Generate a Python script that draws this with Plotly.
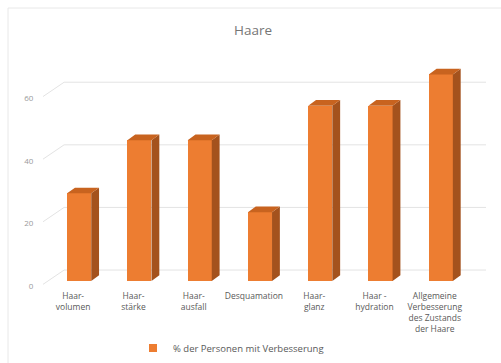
import plotly.graph_objects as go

# Chart data
categories = [
    "Haar-<br>volumen",
    "Haar-<br>stärke",
    "Haar-<br>ausfall",
    "Desquamation",
    "Haar-<br>glanz",
    "Haar -<br>hydration",
    "Allgemeine<br>Verbesserung<br>des Zustands<br>der Haare",
]
values = [28, 45, 45, 22, 56, 56, 66]
y_ticks = [0, 20, 40, 60]
series_name = "% der Personen mit Verbesserung"

# Figure geometry (pixels)
W, H = 501, 363
ML, MR, MT, MB = 43, 15, 60, 77
PW, PH = W - ML - MR, H - MT - MB
X_RANGE = [-0.5, 6.85]
Y_RANGE = [-1.6, 70.6]

# Pseudo-3D offsets (axis units)
FRONT_DY = -1.6                 # front plane below the bar floor
BACK_DX, BACK_DY = 0.35, 3.5    # back wall offset
BAR_SHIFT, BAR_W = 0.1, 0.4
DEPTH_DX, DEPTH_DY = 0.13, 1.8

FRONT = "#ED7D31"
SIDE = "#A4521D"
TOP = "#C8631F"
GRID = "#e3e3e3"
TEXT = "#595959"


def px_to_paper(px, py):
    return (px - ML) / PW, (H - MB - py) / PH


fig = go.Figure()

xs = [i + BAR_SHIFT for i in range(len(values))]

# Front faces
fig.add_trace(go.Bar(
    x=xs, y=values, width=BAR_W,
    marker=dict(color=FRONT, line=dict(width=0)),
    showlegend=False, hoverinfo="skip",
))

# Side and top faces
side_x, side_y, top_x, top_y = [], [], [], []
for x, v in zip(xs, values):
    xl, xr = x - BAR_W / 2, x + BAR_W / 2
    side_x += [xr, xr + DEPTH_DX, xr + DEPTH_DX, xr, xr, None]
    side_y += [0, DEPTH_DY, v + DEPTH_DY, v, 0, None]
    top_x += [xl, xl + DEPTH_DX, xr + DEPTH_DX, xr, xl, None]
    top_y += [v, v + DEPTH_DY, v + DEPTH_DY, v, v, None]

fig.add_trace(go.Scatter(x=side_x, y=side_y, mode="lines", fill="toself",
                         fillcolor=SIDE, line=dict(width=0),
                         showlegend=False, hoverinfo="skip"))
fig.add_trace(go.Scatter(x=top_x, y=top_y, mode="lines", fill="toself",
                         fillcolor=TOP, line=dict(width=0),
                         showlegend=False, hoverinfo="skip"))

# Legend entry
fig.add_trace(go.Scatter(x=[None], y=[None], mode="markers", name=series_name,
                         marker=dict(symbol="square", size=8, color=FRONT)))

shapes = []
# Back-wall gridlines and side-wall diagonals
for v in y_ticks:
    shapes.append(dict(type="line", xref="x", yref="y", layer="below",
                       x0=X_RANGE[0] + BACK_DX, x1=X_RANGE[1],
                       y0=v + BACK_DY, y1=v + BACK_DY,
                       line=dict(color=GRID, width=1)))
    shapes.append(dict(type="line", xref="x", yref="y", layer="below",
                       x0=X_RANGE[0] - 0.04, x1=X_RANGE[0] + BACK_DX,
                       y0=v + FRONT_DY, y1=v + BACK_DY,
                       line=dict(color=GRID, width=1)))

# Chart frame
fx0, fy0 = px_to_paper(8, 8)
fx1, fy1 = px_to_paper(530, 390)
shapes.append(dict(type="rect", xref="paper", yref="paper", layer="below",
                   x0=fx0, x1=fx1, y0=fy1, y1=fy0,
                   line=dict(color="#e8e8e8", width=1)))

fig.update_layout(
    width=W, height=H,
    margin=dict(l=ML, r=MR, t=MT, b=MB, autoexpand=False),
    paper_bgcolor="white", plot_bgcolor="white",
    font=dict(family="Open Sans", size=8.5, color=TEXT),
    title=dict(text="Haare", x=253 / W, y=1 - 30 / H, xanchor="center",
               yanchor="middle", font=dict(size=13.5, color="#767676")),
    xaxis=dict(range=X_RANGE, tickmode="array",
               tickvals=list(range(len(categories))), ticktext=categories,
               showgrid=False, zeroline=False, showline=False,
               ticks="outside", ticklen=2, tickcolor="rgba(0,0,0,0)",
               tickfont=dict(size=8.5, color=TEXT), fixedrange=True,
               automargin=False),
    yaxis=dict(range=Y_RANGE, tickmode="array",
               tickvals=[v + FRONT_DY for v in y_ticks],
               ticktext=[str(v) for v in y_ticks],
               showgrid=False, zeroline=False, showline=False,
               ticks="outside", ticklen=7, tickcolor="rgba(0,0,0,0)",
               tickfont=dict(size=8, color="#9a9a9a"), fixedrange=True,
               automargin=False),
    legend=dict(orientation="h", xref="container", yref="container",
                x=133 / W, y=1 - 348 / H, xanchor="left", yanchor="middle",
                font=dict(size=9.5, color=TEXT),
                itemwidth=30, bgcolor="rgba(0,0,0,0)"),
    shapes=shapes,
    bargap=0,
)

fig.write_html("out.html")
